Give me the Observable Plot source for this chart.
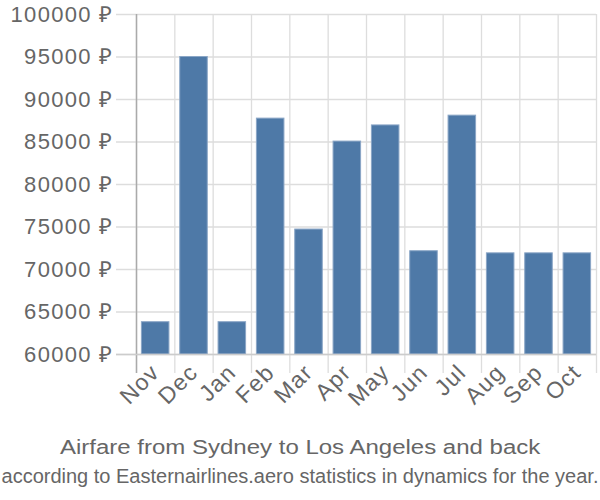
<!DOCTYPE html>
<html>
<head>
<meta charset="utf-8">
<script src="https://cdn.jsdelivr.net/npm/d3@7"></script>
<script src="https://cdn.jsdelivr.net/npm/@observablehq/plot@0.6"></script>
<style>
  body { margin: 0; background: #fff; font-family: "Liberation Sans", Arial, sans-serif; }
  #wrap { width: 600px; height: 500px; position: relative; }
  #wrap svg { position: absolute; left: 0; top: 0; }
  .line { position: absolute; left: 0; width: 600px; text-align: center; color: #666; white-space: nowrap; line-height: 20px; font-size: 20px; }
  .line span { display: inline-block; }
  .title { top: 437px; }
  .title span { transform: scaleX(1.2); }
  .sub { top: 466px; }
  .sub span { transform: scaleX(1.0); }
</style>
</head>
<body>
<div id="wrap"></div>
<script>
const months = ["Nov","Dec","Jan","Feb","Mar","Apr","May","Jun","Jul","Aug","Sep","Oct"];
const prices = [63800, 95000, 63800, 87750, 74700, 85050, 86950, 72150, 88100, 71900, 71900, 71900];
const yTicks = [60000, 65000, 70000, 75000, 80000, 85000, 90000, 95000, 100000];
const titleText = "Airfare from Sydney to Los Angeles and back";
const subText = "according to Easternairlines.aero statistics in dynamics for the year.";

const data = months.map((m, i) => ({m, i, v: prices[i]}));
const bounds = d3.range(months.length + 1);
const centers = months.map((m, i) => i + 0.5);

const chart = Plot.plot({
  width: 600,
  height: 420,
  marginTop: 14,
  marginLeft: 136,
  marginRight: 4,
  marginBottom: 66,
  style: {fontFamily: "Liberation Sans, Arial, sans-serif", fontSize: "22px", letterSpacing: "1.3px", color: "#666", background: "#fff"},
  x: {domain: [0, months.length], axis: null, label: null},
  y: {domain: [60000, 100000], axis: null, label: null},
  marks: [
    Plot.ruleY(yTicks, {stroke: "#ddd", strokeWidth: 1.3, insetLeft: -20}),
    Plot.ruleX(bounds, {stroke: "#ddd", strokeWidth: 1.3, insetBottom: -19}),
    Plot.rectY(data, {x1: "i", x2: d => d.i + 1, y1: 60000, y2: "v", fill: "#4e79a7", stroke: "#8aa6c6", strokeWidth: 1, insetLeft: 5.4, insetRight: 5.4}),
    Plot.ruleX([0], {stroke: "#aaa", strokeWidth: 1.5, insetBottom: -19}),
    Plot.ruleY([60000], {stroke: "#ccc", strokeWidth: 1.3, insetLeft: -20}),
    Plot.axisY(yTicks, {label: null, tickSize: 0, tickPadding: 23, tickFormat: d => `${d} ₽`, fill: "#666", fontSize: 22}),
    Plot.axisX(centers, {label: null, tickSize: 0, tickPadding: 14, tickRotate: -45, tickFormat: d => months[Math.floor(d)], fill: "#666", fontSize: 23})
  ]
});
const wrap = document.getElementById("wrap");
wrap.appendChild(chart);
function addLine(cls, text) {
  const d = document.createElement("div");
  d.className = "line " + cls;
  const sp = document.createElement("span");
  sp.textContent = text;
  d.appendChild(sp);
  wrap.appendChild(d);
}
addLine("title", titleText);
addLine("sub", subText);
</script>
</body>
</html>
